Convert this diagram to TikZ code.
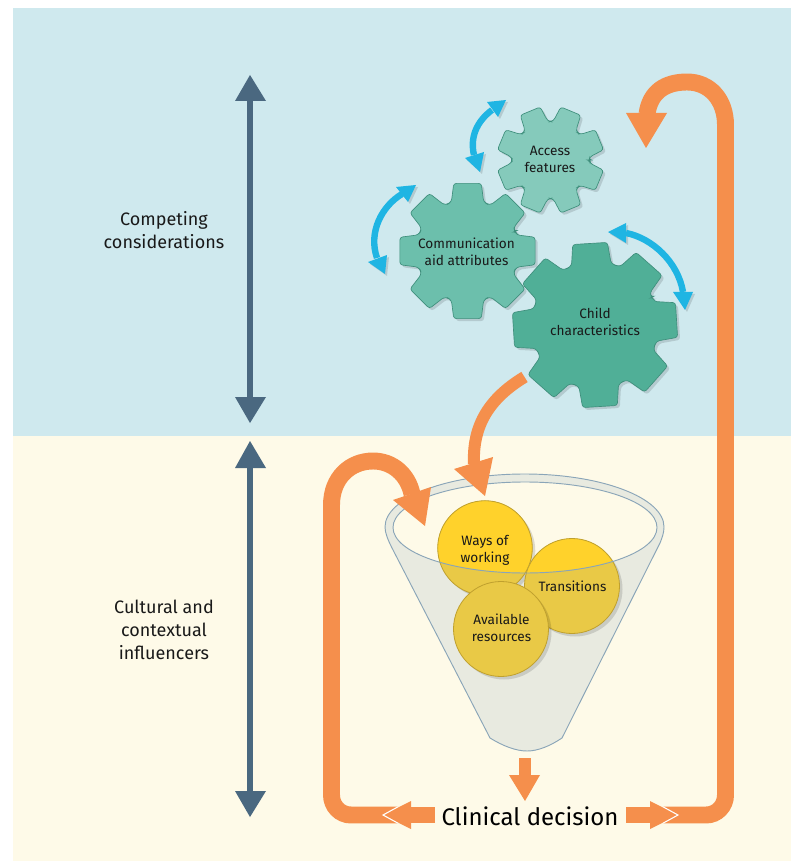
\documentclass[tikz,border=0pt]{standalone}
\usepackage{fontspec}
\setmainfont{Fira Sans}
\definecolor{bgblue}{HTML}{CFE9EE}
\definecolor{bgcream}{HTML}{FEFAE8}
\definecolor{slate}{HTML}{4A6880}
\definecolor{orangeA}{HTML}{F58F4C}
\definecolor{skyA}{HTML}{1FB5E3}
\definecolor{gearA}{HTML}{85CABB}
\definecolor{gearB}{HTML}{6CBFAC}
\definecolor{gearC}{HTML}{50AF97}
\definecolor{gearline}{HTML}{3F8F7C}
\definecolor{funnelfill}{HTML}{E8EAE0}
\definecolor{funnelline}{HTML}{8AA5B8}
\definecolor{ballbright}{HTML}{FFD22B}
\definecolor{balldim}{HTML}{E9C946}
\definecolor{ballline}{HTML}{BFA02E}
% centre x, centre y, outer radius, valley radius, rotation, tip half angle, base half angle, options
\newcommand{\cogwheel}[8]{%
  \draw[shift={(#1,#2)},rounded corners=2,#8] (#5-22.5:#4)
  \foreach \i [evaluate=\i as \t using \i*45+#5] in {0,...,7}{
    -- (\t-#7:#4) -- (\t-#6:#3) -- (\t+#6:#3) -- (\t+#7:#4) -- (\t+22.5:#4-1)
  } -- cycle;}
\tikzset{
  lab/.style={font=\fontsize{10.2}{12.9}\selectfont,align=center,text=black!90,inner sep=0},
  biglab/.style={font=\fontsize{13.5}{17.2}\selectfont,align=center,text=black!90,inner sep=0},
  hugelab/.style={font=\fontsize{18}{22}\selectfont,text=black,inner sep=0},
  slateline/.style={draw=slate,line width=5.2},
  orangeline/.style={draw=orangeA,line width=12.7},
  skyline/.style={draw=skyA,line width=4.8},
  softshadow/.style={fill=black,draw=none,opacity=.13},
  gearbody/.style={draw=gearline,line width=.5},
  ball/.style={draw=ballline,line width=.6},
}
\begin{document}
\begin{tikzpicture}[x=.75pt,y=-.75pt]
\useasboundingbox (0,0) rectangle (791,862);
\fill[white] (0,0) rectangle (791,862);
\fill[bgblue] (13,8) rectangle (791,436);
\fill[bgcream] (13,436) rectangle (791,861);

% ---- dark double arrows
\coordinate (cTop) at (250,90); \coordinate (cBot) at (250,405);
\coordinate (iTop) at (250,455); \coordinate (iBot) at (250,805);
\draw[slateline] (cTop) -- (cBot);
\draw[slateline] (iTop) -- (iBot);
\fill[slate] (250,75) -- (266,101) -- (235,101) -- cycle;
\fill[slate] (250,423) -- (266,397) -- (235,397) -- cycle;
\fill[slate] (250,441) -- (266,468) -- (235,468) -- cycle;
\fill[slate] (250,817) -- (266,791) -- (235,791) -- cycle;
\node[biglab] (compet) at (164,230.5) {Competing\\considerations};
\node[biglab] (cultural) at (164,629.5) {Cultural and\\contextual\\influencers};

% ---- funnel
\path[draw=funnelline,line width=.7,fill=funnelfill]
  (385,527) .. controls (385,497.7) and (447.5,474) .. (524.5,474)
  .. controls (601.5,474) and (664,497.7) .. (664,527)
  .. controls (664,533) and (662,538) .. (660,543)
  -- (562,738) .. controls (550,746) and (538,751) .. (527,751)
  .. controls (516,751) and (503,746) .. (490,738)
  -- (392,548) .. controls (388,540) and (385,533) .. (385,527) -- cycle;
\fill[bgcream] (525,527.5) ellipse [x radius=132,y radius=45.5];

% ways of working
\fill[softshadow] (488,551) circle (47.3);
\fill[balldim] (485,548) circle (47.3);
\begin{scope}
  \clip (525,527.5) ellipse [x radius=132,y radius=45.5];
  \fill[ballbright] (485,548) circle (47.3);
\end{scope}
\draw[ball] (485,548) circle (47.3);
% transitions
\fill[softshadow] (575,589) circle (47.5);
\fill[balldim] (572,586) circle (47.5);
\begin{scope}
  \clip (525,527.5) ellipse [x radius=132,y radius=45.5];
  \fill[ballbright] (572,586) circle (47.5);
\end{scope}
\draw[ball] (572,586) circle (47.5);
% available resources
\fill[softshadow] (504,632) circle (47.5);
\fill[balldim] (501,629) circle (47.5);
\draw[ball] (501,629) circle (47.5);
\draw[funnelline,line width=.7] (525,527.5) ellipse [x radius=132,y radius=45.5];
\node[lab] (ways) at (485,550) {Ways of\\working};
\node[lab] (trans) at (572.5,586) {Transitions};
\node[lab] (avail) at (501.5,628) {Available\\resources};

% ---- gears
\cogwheel{553}{162.5}{54}{39.5}{22.5}{11.5}{18}{softshadow}
\cogwheel{550.5}{160}{54}{39.5}{22.5}{11.5}{18}{gearbody,fill=gearA}
\cogwheel{470}{253.5}{69}{52}{0}{11.5}{18}{softshadow}
\cogwheel{467.5}{251}{69}{52}{0}{11.5}{18}{gearbody,fill=gearB}
\cogwheel{597.5}{327.5}{83.5}{64}{-3.5}{12}{18}{softshadow}
\cogwheel{595}{325}{83.5}{64}{-3.5}{12}{18}{gearbody,fill=gearC}
\node[lab] (access) at (550,159) {Access\\features};
\node[lab] (comm) at (466.5,251.5) {Communication\\aid attributes};
\node[lab] (child) at (595,322) {Child\\characteristics};

% ---- blue double arrows
\coordinate (aT) at (492,110); \coordinate (aB) at (474,155);
\coordinate (bT) at (402,194); \coordinate (bB) at (377,258);
\coordinate (cL) at (626,233); \coordinate (cR) at (683,292);
\begin{scope}[shift={(2,2)},softshadow]
  \fill (506,100) -- (487,102) -- (498,117) -- cycle;
  \fill (480,172) -- (465,158) -- (484,152) -- cycle;
  \fill (416,185) -- (396,187) -- (408,202) -- cycle;
  \fill (385,274) -- (368,262) -- (387,255) -- cycle;
  \fill (608,232) -- (626,223) -- (626,243) -- cycle;
  \fill (685,310) -- (673,292) -- (693,292) -- cycle;
\end{scope}
\draw[skyline] (aT) .. controls (476,122) and (470,138) .. (aB);
\draw[skyline] (bT) .. controls (382,206) and (368,232) .. (bB);
\draw[skyline] (cL) .. controls (652,238) and (678,262) .. (cR);
\fill[skyA] (506,100) -- (487,102) -- (498,117) -- cycle;
\fill[skyA] (480,172) -- (465,158) -- (484,152) -- cycle;
\fill[skyA] (416,185) -- (396,187) -- (408,202) -- cycle;
\fill[skyA] (385,274) -- (368,262) -- (387,255) -- cycle;
\fill[skyA] (608,232) -- (626,223) -- (626,243) -- cycle;
\fill[skyA] (685,310) -- (673,292) -- (693,292) -- cycle;

% ---- orange arrows
\node[hugelab] (clin) at (530,816) {Clinical decision};
\coordinate (rStart) at (663,815); \coordinate (rEnd) at (647,114);
\coordinate (lStart) at (398,815); \coordinate (lEnd) at (412,494);
\coordinate (gStart) at (524.5,377); \coordinate (gEnd) at (474,464);
\coordinate (fStart) at (525,758); \coordinate (fEnd) at (525,776);
\draw[orangeline] (rStart) -- (706,815) .. controls (717,815) and (725.5,806) .. (725.5,795)
  -- (725.5,125) .. controls (725.5,100) and (710,82) .. (687,82)
  .. controls (665,82) and (650,92) .. (rEnd);
\draw[orangeline] (lStart) -- (351,815) .. controls (340,815) and (331.5,806) .. (331.5,795)
  -- (331.5,505) .. controls (331.5,478) and (350,461) .. (373,461)
  .. controls (393,461) and (408,475) .. (lEnd);
\draw[orangeA,line width=9] (gStart) .. controls (495,395) and (472,420) .. (gEnd);
\draw[orangeA,line width=9] (fStart) -- (fEnd);
\fill[orangeA] (646,148) -- (626,113) -- (667,113) -- cycle;
\fill[orangeA] (425,526) -- (393,500) -- (431,487) -- cycle;
\fill[orangeA] (485,496) -- (454,469) -- (493,457) -- cycle;
\fill[orangeA] (525,801) -- (509,775) -- (540,775) -- cycle;
\coordinate (rShaft) at (626,815); \coordinate (rHead) at (651,815);
\coordinate (lShaft) at (435,815); \coordinate (lHead) at (411,815);
\draw[orangeline,line width=12] (rShaft) -- (rHead);
\draw[orangeline,line width=12] (lShaft) -- (lHead);
\fill[orangeA] (678,815) -- (650,801) -- (650,829) -- cycle;
\fill[orangeA] (383,815) -- (411,801) -- (411,829) -- cycle;
\draw[white,line width=.8] (663,806.8) -- (678,815) -- (663,823.2);
\draw[white,line width=.8] (398,806.8) -- (383,815) -- (398,823.2);
\end{tikzpicture}
\end{document}
